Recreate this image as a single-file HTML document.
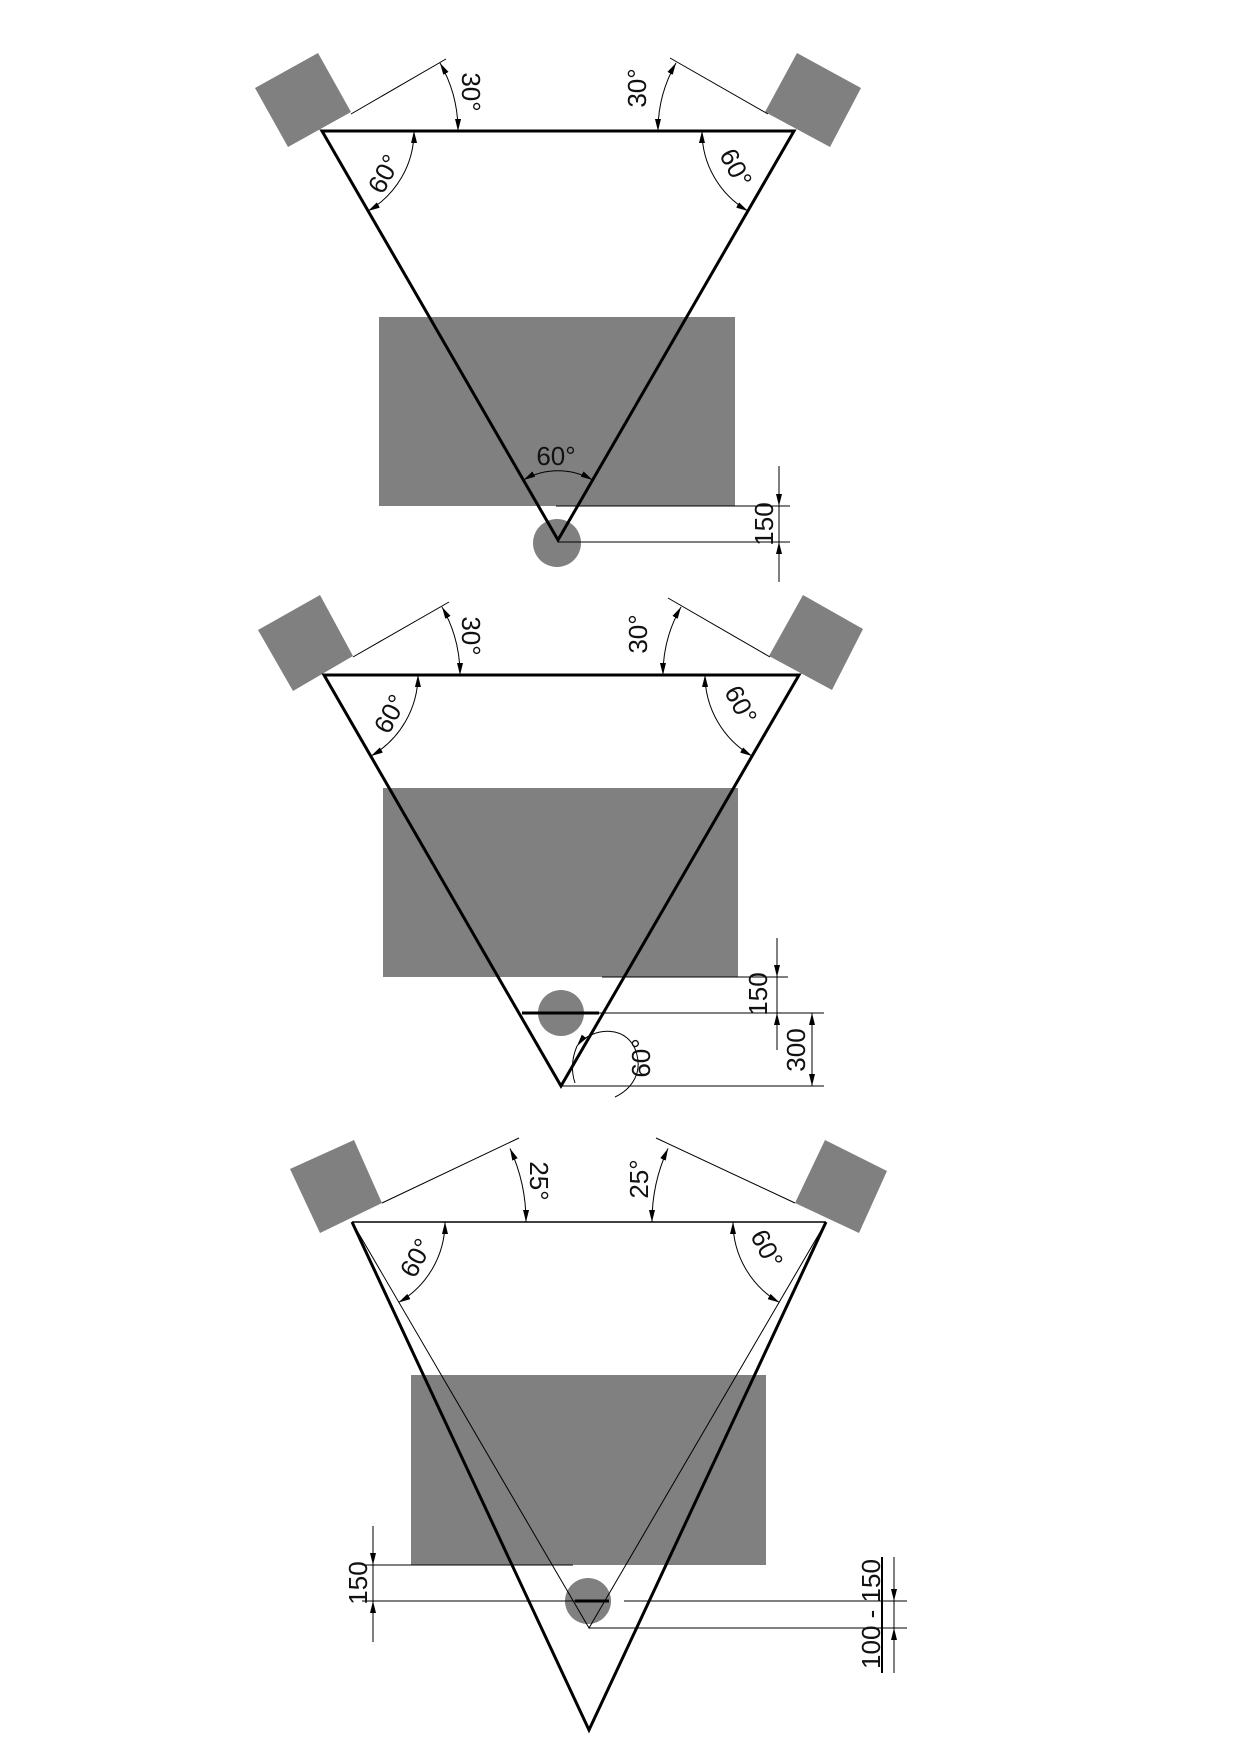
<!DOCTYPE html>
<html><head><meta charset="utf-8"><style>
html,body{margin:0;padding:0;background:#fff;}
svg{display:block;}
text{font-family:"Liberation Sans",sans-serif;font-size:26px;fill:#111;}
</style></head><body>
<svg width="1240" height="1754" viewBox="0 0 1240 1754" xmlns="http://www.w3.org/2000/svg">
<defs>
<marker id="a" viewBox="0 0 12 6" refX="12" refY="3" markerWidth="12" markerHeight="6" markerUnits="userSpaceOnUse" orient="auto-start-reverse">
<path d="M0,0 L12,3 L0,6 Z" fill="#000"/></marker>
</defs>
<g fill="#808080" stroke="none">
<polygon points="255,88 318,53 351,112 288,147"/>
<polygon points="797,53 861,88 830,147 765,112"/>
<rect x="379" y="317" width="356" height="189"/>
<circle cx="557" cy="543" r="24"/>
<polygon points="258,630 320,595 353,656 293,691"/>
<polygon points="803,595 863,629 832,690 769,656"/>
<rect x="383" y="788" width="355" height="189"/>
<circle cx="561" cy="1013" r="23"/>
<polygon points="290,1169 354,1140 382,1203 320,1233"/>
<polygon points="825,1140 887,1171 859,1233 795,1203"/>
<rect x="411" y="1375" width="355" height="190"/>
<circle cx="588" cy="1601" r="23"/>
</g>
<g fill="none" stroke="#000">
<polygon points="322,131 794,131 558,540" stroke-width="3" stroke-linejoin="miter"/>
<line x1="351" y1="114" x2="446" y2="59" stroke-width="1"/>
<line x1="768" y1="114" x2="670" y2="58" stroke-width="1"/>
<path d="M458,131 A136,136 0 0 0 440,63" stroke-width="1" marker-start="url(#a)" marker-end="url(#a)"/>
<path d="M658,131 A136,136 0 0 1 676,63" stroke-width="1" marker-start="url(#a)" marker-end="url(#a)"/>
<path d="M414,131 A92,92 0 0 1 368,211" stroke-width="1" marker-start="url(#a)" marker-end="url(#a)"/>
<path d="M702,131 A92,92 0 0 0 748,211" stroke-width="1" marker-start="url(#a)" marker-end="url(#a)"/>
<path d="M523.5,480 A69,69 0 0 1 592.5,480" stroke-width="1" marker-start="url(#a)" marker-end="url(#a)"/>
<line x1="556" y1="506" x2="790" y2="506" stroke-width="1"/>
<line x1="558" y1="542" x2="790" y2="542" stroke-width="1"/>
<line x1="779" y1="466" x2="779" y2="506" stroke-width="1" marker-end="url(#a)"/>
<line x1="779" y1="582" x2="779" y2="542" stroke-width="1" marker-end="url(#a)"/>
<line x1="779" y1="506" x2="779" y2="542" stroke-width="1"/>
<polygon points="324,675 799,675 561,1086" stroke-width="3"/>
<line x1="353" y1="657" x2="449" y2="602" stroke-width="1"/>
<line x1="770" y1="657" x2="668" y2="598" stroke-width="1"/>
<path d="M460,675 A136,136 0 0 0 442,607" stroke-width="1" marker-start="url(#a)" marker-end="url(#a)"/>
<path d="M663,675 A136,136 0 0 1 681,607" stroke-width="1" marker-start="url(#a)" marker-end="url(#a)"/>
<path d="M418,675 A94,94 0 0 1 371,756" stroke-width="1" marker-start="url(#a)" marker-end="url(#a)"/>
<path d="M705,675 A94,94 0 0 0 752,756" stroke-width="1" marker-start="url(#a)" marker-end="url(#a)"/>
<line x1="522" y1="1013" x2="599" y2="1013" stroke-width="3"/>
<line x1="599" y1="1013" x2="824" y2="1013" stroke-width="1"/>
<line x1="602" y1="977" x2="788" y2="977" stroke-width="1"/>
<line x1="561" y1="1086" x2="824" y2="1086" stroke-width="1"/>
<line x1="777" y1="938" x2="777" y2="977" stroke-width="1" marker-end="url(#a)"/>
<line x1="777" y1="1050" x2="777" y2="1013" stroke-width="1" marker-end="url(#a)"/>
<line x1="777" y1="977" x2="777" y2="1013" stroke-width="1"/>
<line x1="812" y1="1050" x2="812" y2="1013" stroke-width="1" marker-end="url(#a)"/>
<line x1="812" y1="1050" x2="812" y2="1086" stroke-width="1" marker-end="url(#a)"/>
<path d="M577,1046 C592,1026 630,1024 637,1055 C642,1075 630,1090 615,1097" stroke-width="1" marker-start="url(#a)"/>
<path d="M575,1083 Q569,1065 577,1046" stroke-width="1"/>
<polyline points="352,1222 589,1730 826,1222" stroke-width="3"/>
<line x1="352" y1="1222" x2="826" y2="1222" stroke-width="1.5"/>
<polyline points="352,1222 589,1628 826,1222" stroke-width="1"/>
<line x1="382" y1="1203" x2="519" y2="1138" stroke-width="1"/>
<line x1="795" y1="1203" x2="656" y2="1138" stroke-width="1"/>
<path d="M526,1222 A174,174 0 0 0 510,1148.5" stroke-width="1" marker-start="url(#a)" marker-end="url(#a)"/>
<path d="M652,1222 A174,174 0 0 1 668,1148.5" stroke-width="1" marker-start="url(#a)" marker-end="url(#a)"/>
<path d="M445,1222 A93,93 0 0 1 398.5,1302.5" stroke-width="1" marker-start="url(#a)" marker-end="url(#a)"/>
<path d="M733,1222 A93,93 0 0 0 779.5,1302.5" stroke-width="1" marker-start="url(#a)" marker-end="url(#a)"/>
<line x1="362" y1="1565" x2="573" y2="1565" stroke-width="1"/>
<line x1="362" y1="1601" x2="575" y2="1601" stroke-width="1"/>
<line x1="575" y1="1601" x2="609" y2="1601" stroke-width="3"/>
<line x1="624" y1="1601" x2="907" y2="1601" stroke-width="1"/>
<line x1="589" y1="1628" x2="907" y2="1628" stroke-width="1"/>
<line x1="373" y1="1526" x2="373" y2="1565" stroke-width="1" marker-end="url(#a)"/>
<line x1="373" y1="1642" x2="373" y2="1601" stroke-width="1" marker-end="url(#a)"/>
<line x1="373" y1="1565" x2="373" y2="1601" stroke-width="1"/>
<line x1="894" y1="1557" x2="894" y2="1601" stroke-width="1" marker-end="url(#a)"/>
<line x1="894" y1="1673" x2="894" y2="1628" stroke-width="1" marker-end="url(#a)"/>
<line x1="894" y1="1601" x2="894" y2="1628" stroke-width="1"/>
<line x1="882" y1="1557" x2="882" y2="1673" stroke-width="2"/>
</g>
<text transform="translate(462,92) rotate(90)" text-anchor="middle">30°</text>
<text transform="translate(646,88) rotate(-90)" text-anchor="middle">30°</text>
<text transform="translate(392,178) rotate(-62)" text-anchor="middle">60°</text>
<text transform="translate(728,172) rotate(62)" text-anchor="middle">60°</text>
<text x="556" y="465" text-anchor="middle">60°</text>
<text transform="translate(773,524) rotate(-90)" text-anchor="middle">150</text>
<text transform="translate(462,636) rotate(90)" text-anchor="middle">30°</text>
<text transform="translate(647,634) rotate(-90)" text-anchor="middle">30°</text>
<text transform="translate(398,718) rotate(-62)" text-anchor="middle">60°</text>
<text transform="translate(733,709) rotate(62)" text-anchor="middle">60°</text>
<text transform="translate(767,994) rotate(-90)" text-anchor="middle">150</text>
<text transform="translate(805,1050) rotate(-90)" text-anchor="middle">300</text>
<text transform="translate(650,1058) rotate(90) scale(-1,-1)" text-anchor="middle">60°</text>
<text transform="translate(530,1181) rotate(90)" text-anchor="middle">25°</text>
<text transform="translate(648,1179) rotate(-90)" text-anchor="middle">25°</text>
<text transform="translate(424,1262) rotate(-62)" text-anchor="middle">60°</text>
<text transform="translate(759,1253) rotate(62)" text-anchor="middle">60°</text>
<text transform="translate(367,1583) rotate(-90)" text-anchor="middle">150</text>
<text transform="translate(880,1614) rotate(-90)" text-anchor="middle">100 - 150</text>
</svg>
</body></html>
